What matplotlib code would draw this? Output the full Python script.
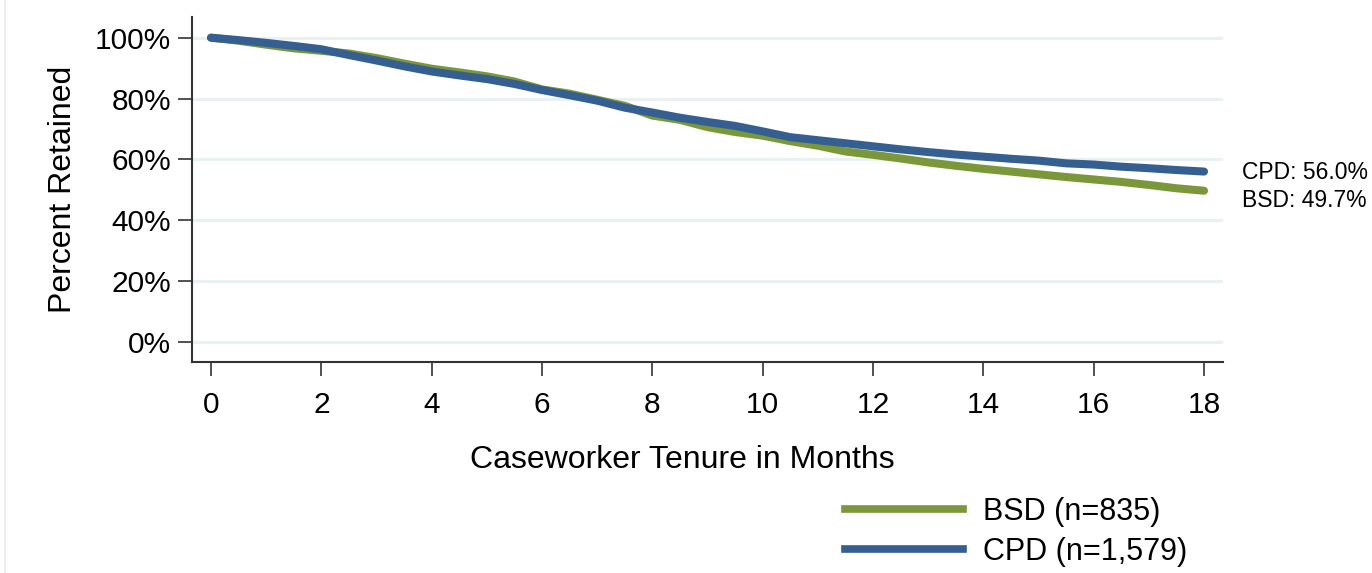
import matplotlib
matplotlib.use("Agg")
import matplotlib.pyplot as plt
from matplotlib.lines import Line2D

plt.rcParams['font.family'] = ['Liberation Sans', 'DejaVu Sans']

# retention curves, read every half month
months = [0, 0.5, 1, 1.5, 2, 2.5, 3, 3.5, 4, 4.5, 5, 5.5, 6, 6.5, 7, 7.5, 8, 8.5, 9,
          9.5, 10, 10.5, 11, 11.5, 12, 12.5, 13, 13.5, 14, 14.5, 15, 15.5, 16, 16.5,
          17, 17.5, 18]
bsd = [100, 99.0, 97.7, 96.5, 95.7, 94.8, 93.3, 91.5, 89.8, 88.6, 87.3, 85.6, 83.0,
       81.6, 79.6, 77.6, 74.4, 73.0, 70.6, 69.0, 67.8, 66.0, 64.5, 62.6, 61.5, 60.3,
       59.0, 57.9, 56.9, 56.0, 55.1, 54.2, 53.4, 52.6, 51.6, 50.5, 49.7]
cpd = [100, 99.2, 98.3, 97.3, 96.2, 94.3, 92.5, 90.6, 88.9, 87.6, 86.4, 84.8, 82.8,
       81.1, 79.3, 77.0, 75.4, 73.7, 72.3, 71.0, 69.2, 67.3, 66.3, 65.3, 64.3, 63.3,
       62.4, 61.6, 60.9, 60.2, 59.6, 58.7, 58.3, 57.6, 57.1, 56.5, 56.0]
labels = ['BSD (n=835)', 'CPD (n=1,579)']
end_labels = ['BSD: 49.7%', 'CPD: 56.0%']

green = '#7A983A'
blue = '#355E91'

fig = plt.figure(figsize=(13.72, 5.73), dpi=100)
ax = fig.add_axes([192 / 1372, 211 / 573, 1031 / 1372, 345 / 573])

l1, = ax.plot(months, bsd, color=green, lw=5.8, solid_capstyle='round', zorder=3)
l2, = ax.plot(months, cpd, color=blue, lw=5.8, solid_capstyle='round', zorder=4)

ax.set_xlim(-0.344, 18.344)
ax.set_ylim(-6.6, 106.8)
ax.set_xticks(range(0, 19, 2))
ax.set_yticks(range(0, 101, 20))
ax.set_yticklabels([f'{v}%' for v in range(0, 101, 20)])
ax.yaxis.grid(True, color='#EAF1F3', lw=2.2)
ax.set_axisbelow(True)

for s in ['top', 'right']:
    ax.spines[s].set_visible(False)
for s in ['left', 'bottom']:
    ax.spines[s].set_color('#333333')
    ax.spines[s].set_linewidth(1.5)
ax.tick_params(axis='both', labelsize=21.5, length=10, width=1.2,
               color='#333333', direction='out')
ax.tick_params(axis='y', pad=5)
ax.tick_params(axis='x', pad=11)

ax.set_ylabel('Percent Retained', fontsize=23)
ax.yaxis.set_label_coords(-0.111, 0.5)
ax.set_xlabel('Caseworker Tenure in Months', fontsize=23)
ax.xaxis.set_label_coords(0.476, -0.285)
ax.xaxis.label.set_va('center')

# end-of-curve labels
ax.text(18.69, cpd[-1] - 0.3, end_labels[1], fontsize=16.5, va='center', ha='left')
ax.text(18.69, bsd[-1] - 3.2, end_labels[0], fontsize=16.5, va='center', ha='left')

leg_handles = [Line2D([0], [0], color=green, lw=5.5),
               Line2D([0], [0], color=blue, lw=5.5)]
fig.legend(leg_handles, labels, loc='upper left',
           bbox_to_anchor=(845 / 1372, 1 - 497 / 573),
           fontsize=22, frameon=False, handlelength=3.86, handletextpad=0.65,
           labelspacing=0.32, borderpad=0, borderaxespad=0)

# faint border of the graph region
fig.add_artist(Line2D([5 / 1372, 5 / 1372], [0, 1], color='#EEEEEE', lw=1.2))

fig.savefig('out.png', dpi=100)
